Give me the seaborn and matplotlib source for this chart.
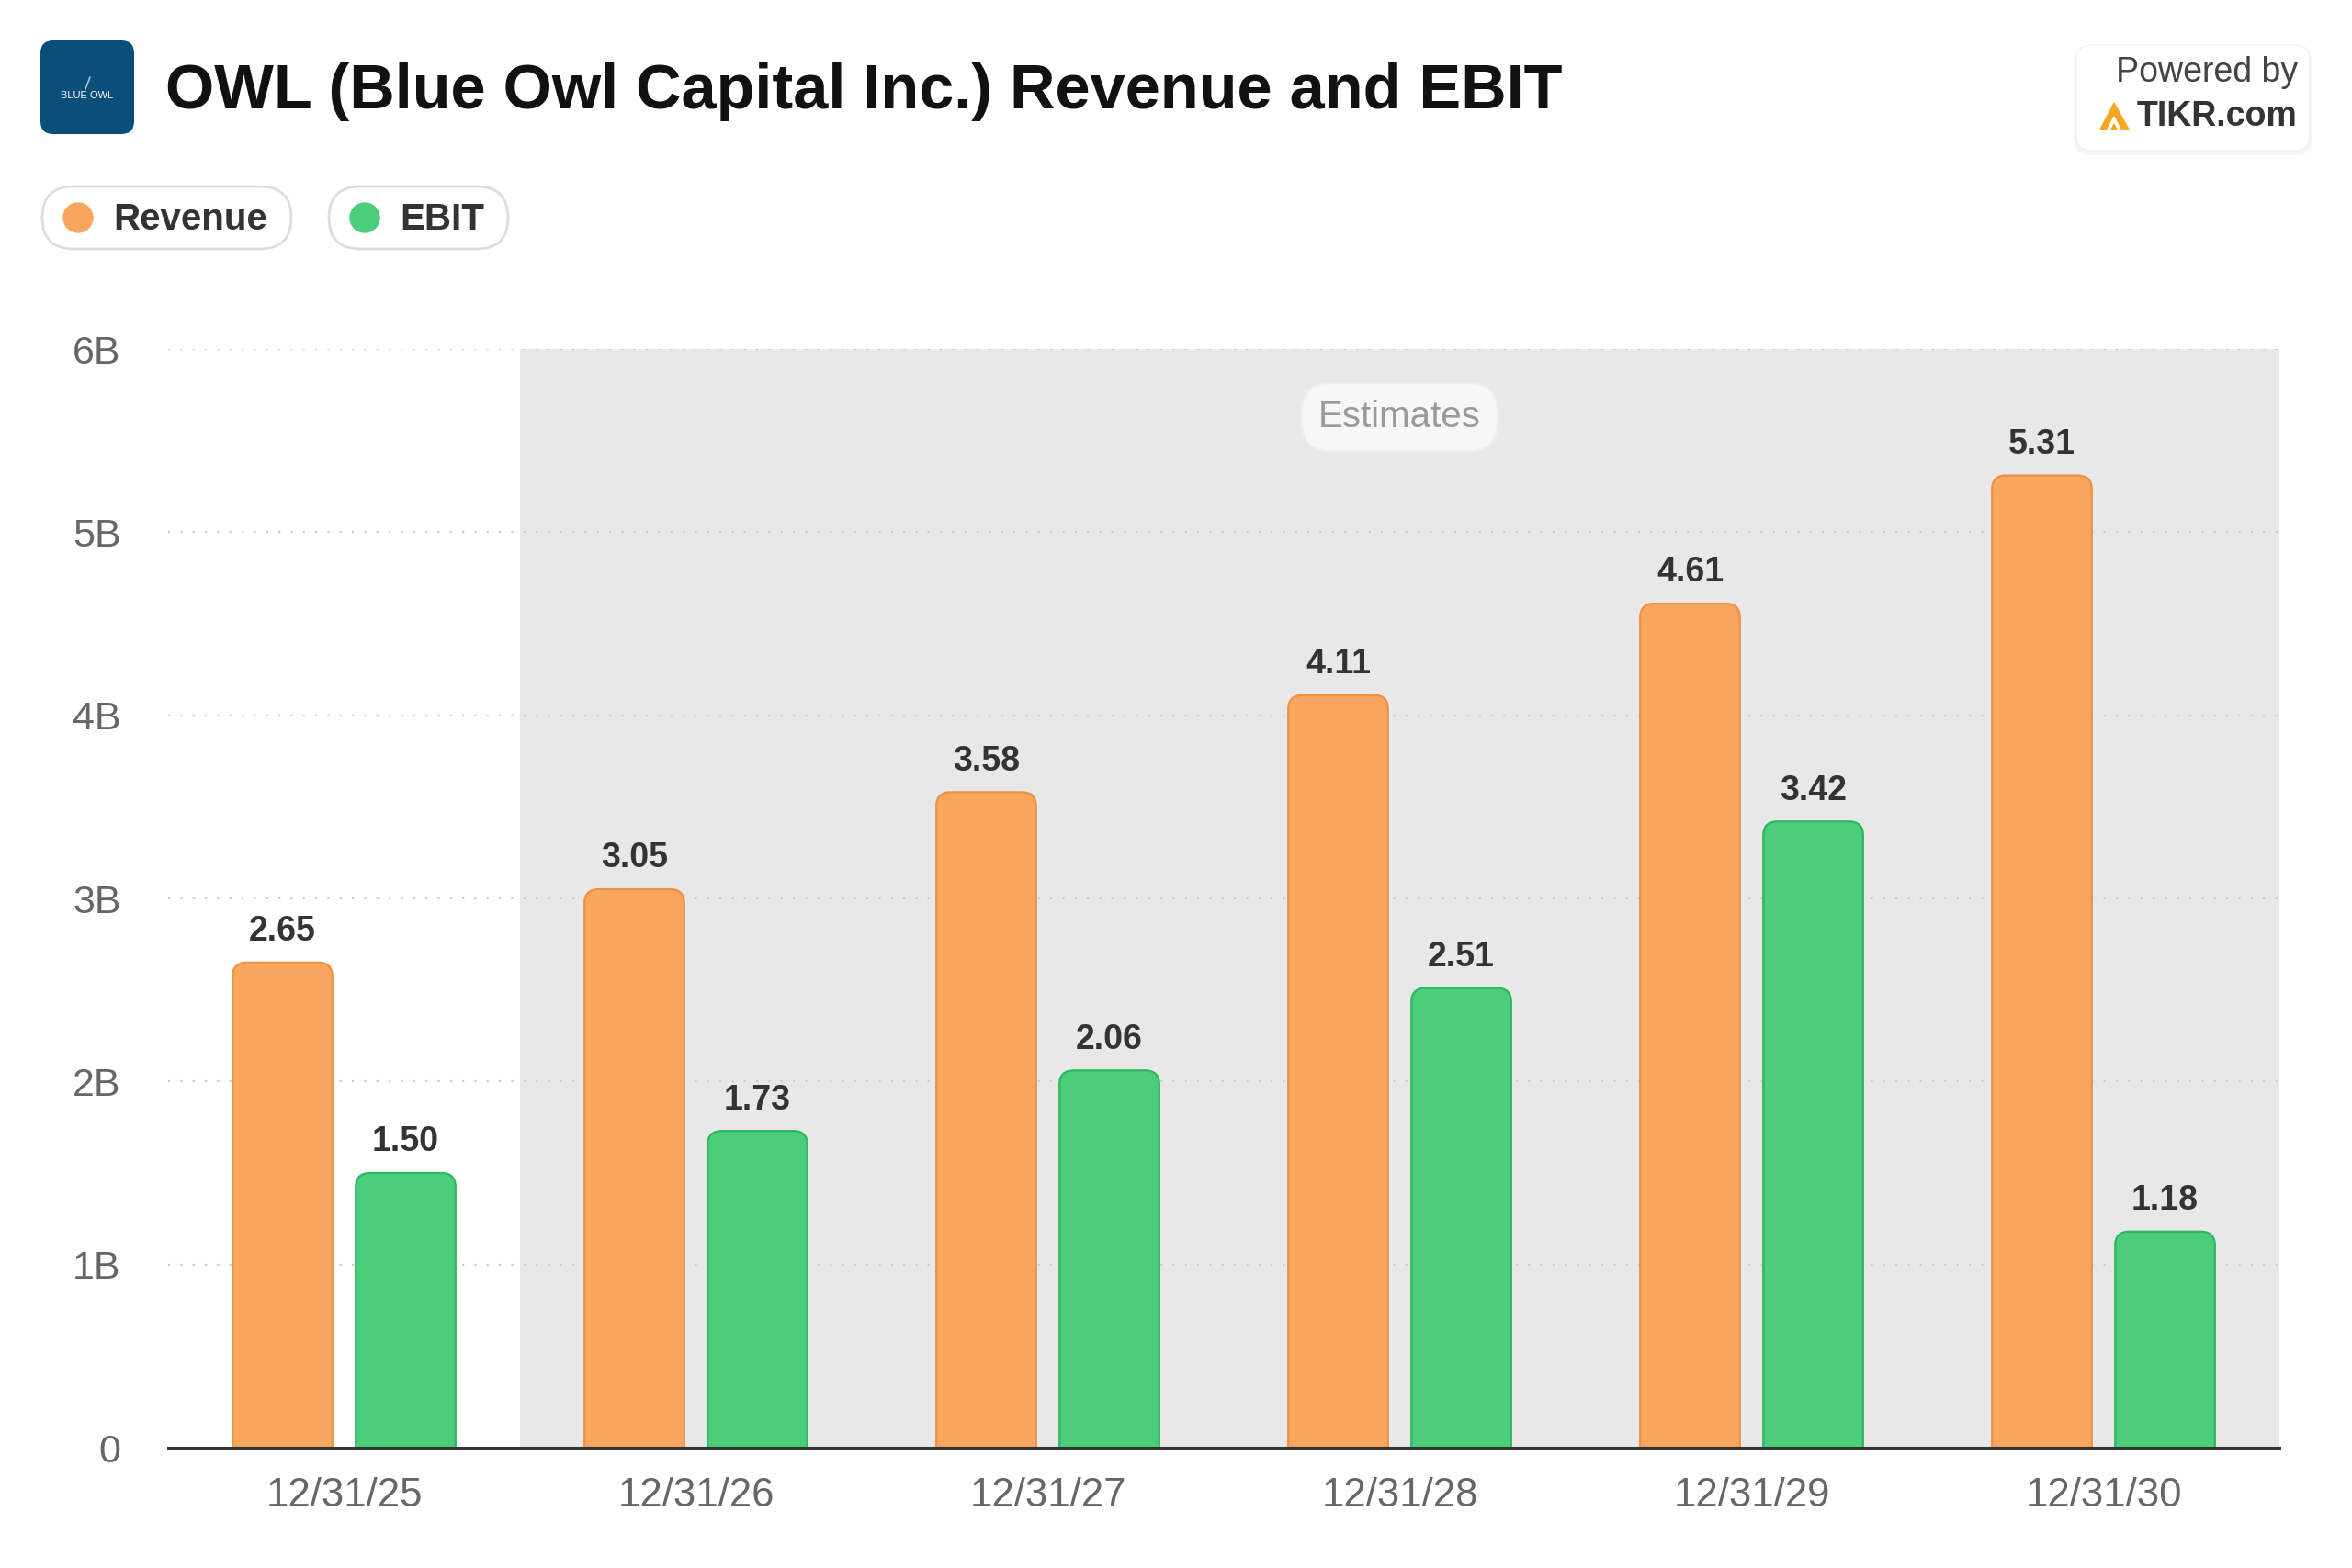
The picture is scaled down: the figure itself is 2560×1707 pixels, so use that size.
import pandas as pd
import matplotlib
matplotlib.use("Agg")
import matplotlib.pyplot as plt
import seaborn as sns
from matplotlib.patches import FancyBboxPatch, Circle, Polygon

# data (billions)
dates = ['12/31/25', '12/31/26', '12/31/27', '12/31/28', '12/31/29', '12/31/30']
revenue = [2.65, 3.05, 3.58, 4.11, 4.61, 5.31]
ebit = [1.50, 1.73, 2.06, 2.51, 3.42, 1.18]
series = ['Revenue', 'EBIT']
yticks = [0, 1, 2, 3, 4, 5, 6]
ylabels = ['0', '1B', '2B', '3B', '4B', '5B', '6B']

fill = {'Revenue': '#F8A55E', 'EBIT': '#4BCE79'}
edge = {'Revenue': '#EE9142', 'EBIT': '#2DB760'}

df = pd.DataFrame({'date': dates * 2,
                   'metric': ['Revenue'] * len(dates) + ['EBIT'] * len(dates),
                   'value': revenue + ebit})

sns.set_style('white')
plt.rcParams['font.family'] = ['Liberation Sans', 'DejaVu Sans']

W, H = 2560, 1707
L, R, T, B = 183, 2481, 380, 1576
fig = plt.figure(figsize=(W / 100, H / 100), dpi=100)
ax = fig.add_axes([L / W, (H - B) / H, (R - L) / W, (B - T) / H])

sns.barplot(data=df, x='date', y='value', hue='metric', hue_order=series,
            palette=fill, saturation=1, width=0.70, gap=0.19, legend=False,
            ax=ax, zorder=3)

ax.set_xlim(-0.5, 5.5)
ax.set_ylim(0, 6)

# swap the plain bars for ones with rounded tops
# seaborn draws one hue level after the other
bars = list(ax.patches)
for i, p in enumerate(bars):
    m = series[i // len(dates)]
    x, w, h = p.get_x(), p.get_width(), p.get_height()
    rb = FancyBboxPatch((x, -0.3), w, h + 0.3,
                        boxstyle='round,pad=0,rounding_size=0.04',
                        mutation_aspect=1.92, fc=fill[m], ec=edge[m],
                        lw=1.6, zorder=3)
    p.remove()
    ax.add_patch(rb)
    ax.annotate(f'{h:.2f}', (x + w / 2, h), xytext=(0, 17),
                textcoords='offset points', ha='center', va='baseline',
                fontsize=27, fontweight='bold', color='#333333', zorder=4)

# estimates shading and grid
ax.axvspan(0.5, 5.5, color='#E8E8E8', zorder=0, lw=0)
for y in yticks[1:]:
    ax.axhline(y, color='#cccccc', lw=1.6, ls=(0, (1, 5)), zorder=1)
ax.text(3, 5.63, 'Estimates', ha='center', va='center', fontsize=29,
        color='#9a9a9a', zorder=2,
        bbox=dict(boxstyle='round,pad=0.45,rounding_size=0.8',
                  fc='#f7f7f7', ec='#efefef', lw=1.5))

for s in ['top', 'right', 'left']:
    ax.spines[s].set_visible(False)
ax.spines['bottom'].set_color('#333333')
ax.spines['bottom'].set_linewidth(2.2)
ax.spines['bottom'].set_zorder(5)
ax.set_yticks(yticks, ylabels)
ax.tick_params(axis='y', length=0, pad=37, labelsize=31, labelcolor='#666666')
ax.tick_params(axis='x', length=10, width=2, color='#333333', pad=13,
               labelsize=31.5, labelcolor='#666666')
ax.set_xlabel('')
ax.set_ylabel('')

# header overlay in pixel units
ov = fig.add_axes([0, 0, 1, 1], zorder=5)
ov.set_xlim(0, W)
ov.set_ylim(H, 0)
ov.axis('off')

ov.add_patch(FancyBboxPatch((44, 44), 102, 102,
                            boxstyle='round,pad=0,rounding_size=14',
                            fc='#0C4E7A', ec='none'))
ov.plot([93, 98], [97, 84], color='#a9c1d3', lw=1.2)
ov.text(95, 104, 'BLUE OWL', ha='center', va='center', fontsize=8,
        color='white')

ov.text(180, 100, 'OWL (Blue Owl Capital Inc.) Revenue and EBIT', ha='left',
        va='center', fontsize=49.3, fontweight='bold', color='#111111')

pills = [(46, 317, 85, 123, 'Revenue'), (358, 553, 397, 435, 'EBIT')]
for x0, x1, cx, tx, lab in pills:
    ov.add_patch(FancyBboxPatch((x0, 203), x1 - x0, 68,
                                boxstyle='round,pad=0,rounding_size=34',
                                fc='white', ec='#dddddd', lw=2))
    ov.add_patch(Circle((cx, 237), 16, color=fill[lab]))
    ov.text(tx, 239, lab, ha='left', va='center', fontsize=29,
            fontweight='bold', color='#333333')

# powered by badge
dx = -13
ov.add_patch(FancyBboxPatch((2270 + dx, 53), 260, 116,
                            boxstyle='round,pad=0,rounding_size=18',
                            fc='#000000', ec='none', alpha=0.035))
ov.add_patch(FancyBboxPatch((2273 + dx, 49), 254, 115,
                            boxstyle='round,pad=0,rounding_size=16',
                            fc='white', ec='#f0f0f0', lw=1))
ov.text(2514 + dx, 79, 'Powered by', ha='right', va='center', fontsize=27,
        color='#444444')
ov.text(2514 + dx, 127, 'TIKR.com', ha='right', va='center', fontsize=27,
        fontweight='bold', color='#333333')
ov.add_patch(Polygon([(2299 + dx, 141), (2314 + dx, 112), (2330 + dx, 141)],
                     color='#F5A623'))
ov.add_patch(Polygon([(2307 + dx, 141), (2314 + dx, 127), (2321 + dx, 141)],
                     color='white'))
ov.add_patch(Polygon([(2311 + dx, 141), (2314 + dx, 135), (2317 + dx, 141)],
                     color='#F5A623'))

fig.savefig('out.png', dpi=100)
